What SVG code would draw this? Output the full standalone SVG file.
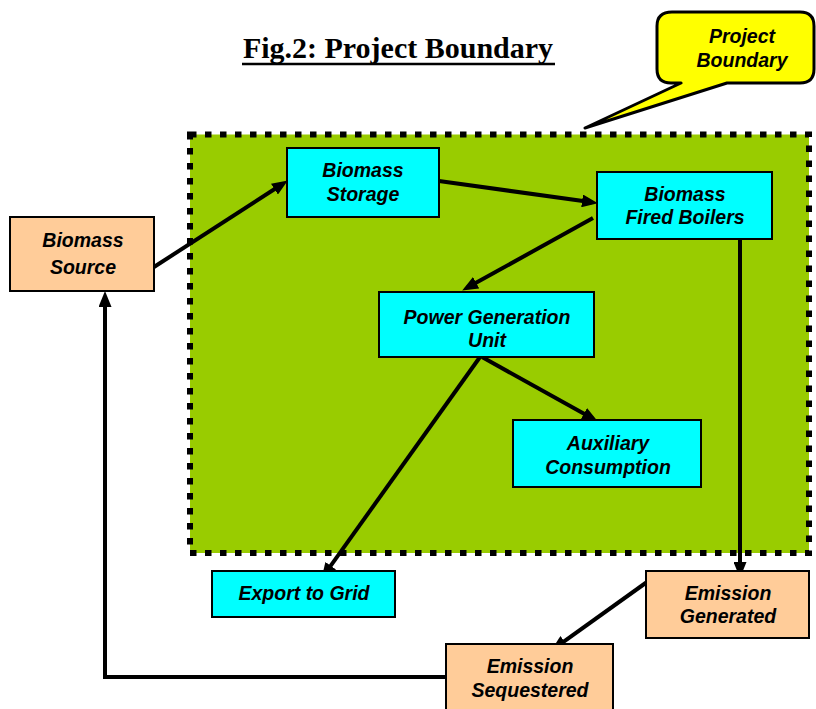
<svg xmlns="http://www.w3.org/2000/svg" width="816" height="709" viewBox="0 0 816 709">
<defs>
<marker id="ah" viewBox="0 0 16 13" refX="10" refY="6.5" markerWidth="16" markerHeight="13" markerUnits="userSpaceOnUse" orient="auto">
<path d="M0,0 L16,6.5 L0,13 Z" fill="#000"/>
</marker>
</defs>
<style>
.t{font-family:"Liberation Sans",Arial,sans-serif;font-weight:bold;font-style:italic;font-size:19.5px;fill:#000;text-anchor:middle}
.cy{fill:#00FFFF;stroke:#000;stroke-width:2}
.pe{fill:#FFCC99;stroke:#000;stroke-width:2}
.c{stroke:#000;stroke-width:4;fill:none;marker-end:url(#ah)}
</style>
<rect width="816" height="709" fill="#fff"/>
<g id="boundary">
<rect x="190" y="134.5" width="619" height="418.5" fill="#99CC00" stroke="#000" stroke-width="6" stroke-dasharray="6.5 8.5"/>
</g>
<g id="title">
<text x="398" y="58" font-family="'Liberation Serif','Times New Roman',serif" font-weight="bold" font-size="30" text-anchor="middle">Fig.2: Project Boundary</text>
<line x1="242" y1="64" x2="555" y2="64" stroke="#000" stroke-width="2.5"/>
</g>
<g id="callout">
<path d="M672,12 H800 Q814,12 814,26 V69 Q814,83 800,83 H727 L585,128 L681,83 H671 Q657,83 657,69 V26 Q657,12 672,12 Z" fill="#FFFF00" stroke="#000" stroke-width="3" stroke-linejoin="round"/>
<text class="t" x="742" y="43" font-size="18.5">Project</text>
<text class="t" x="742" y="67" font-size="18.5">Boundary</text>
</g>
<g id="connectors">
<line class="c" x1="154" y1="267" x2="282.8" y2="183.7"/>
<line class="c" x1="439" y1="181" x2="592" y2="202.3"/>
<line class="c" x1="593" y1="218" x2="467.4" y2="287.6"/>
<line class="c" x1="482" y1="357" x2="592.6" y2="418.6"/>
<line class="c" x1="480" y1="357" x2="324.9" y2="573.9" stroke-width="5"/>
<line class="c" x1="740" y1="239" x2="740" y2="572" stroke-width="3"/>
<line class="c" x1="647" y1="582" x2="556.1" y2="647.1" stroke-width="3.5"/>
<polyline class="c" points="446,677 105,677 105,297" stroke-width="3.5"/>
</g>
<g id="biomass-storage">
<rect class="cy" x="287" y="148" width="152" height="69"/>
<text class="t" x="363" y="177">Biomass</text>
<text class="t" x="363" y="201">Storage</text>
</g>
<g id="biomass-fired-boilers">
<rect class="cy" x="597" y="172" width="175" height="67"/>
<text class="t" x="685" y="200.5">Biomass</text>
<text class="t" x="685" y="223.5">Fired Boilers</text>
</g>
<g id="biomass-source">
<rect class="pe" x="10" y="217" width="144" height="74"/>
<text class="t" x="83" y="247" font-size="21">Biomass</text>
<text class="t" x="83" y="274" font-size="21">Source</text>
</g>
<g id="power-generation-unit">
<rect class="cy" x="379" y="292" width="215" height="65"/>
<text class="t" x="487" y="323.5">Power Generation</text>
<text class="t" x="487" y="347">Unit</text>
</g>
<g id="auxiliary-consumption">
<rect class="cy" x="513" y="420" width="188" height="67"/>
<text class="t" x="608" y="450">Auxiliary</text>
<text class="t" x="608" y="473.5">Consumption</text>
</g>
<g id="export-to-grid">
<rect class="cy" x="212" y="571" width="183" height="46"/>
<text class="t" x="304" y="600">Export to Grid</text>
</g>
<g id="emission-generated">
<rect class="pe" x="646" y="571" width="163" height="67"/>
<text class="t" x="728" y="600">Emission</text>
<text class="t" x="728" y="623">Generated</text>
</g>
<g id="emission-sequestered">
<rect class="pe" x="446" y="644" width="167" height="70"/>
<text class="t" x="530" y="673">Emission</text>
<text class="t" x="530" y="697">Sequestered</text>
</g>
</svg>
